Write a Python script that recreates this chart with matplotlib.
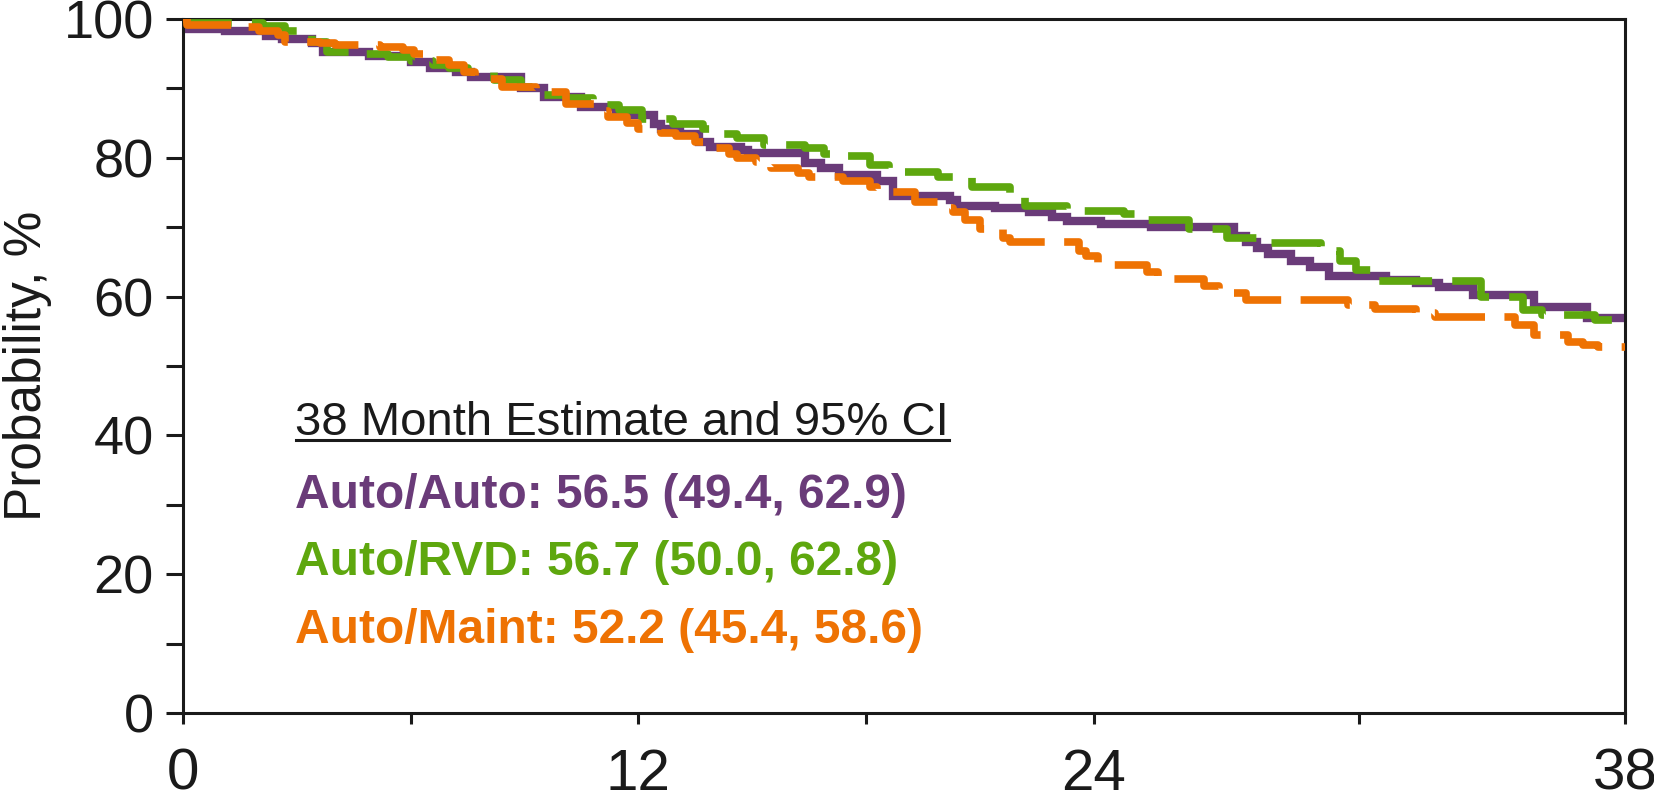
import matplotlib
matplotlib.use('Agg')
import matplotlib.pyplot as plt
from matplotlib.lines import Line2D

plt.rcParams['font.family'] = ['Liberation Sans', 'DejaVu Sans']
plt.rcParams['lines.scale_dashes'] = False

PURPLE = '#6A3B79'
GREEN = '#5EA70E'
ORANGE = '#EE7203'

# ── data (month, survival %) : step change points ──
auto_auto_t = [0, 0.1, 1.1, 2.2, 2.6, 3.4, 3.7, 4.9, 6.0, 6.5, 7.2, 7.6, 8.9, 9.5, 10.5,
               11.4, 12.4, 12.6, 13.1, 13.6, 13.9, 14.7, 14.9, 16.4, 16.8, 17.3, 18.3,
               18.7, 20.2, 20.4, 21.4, 22.3, 22.9, 23.3, 24.2, 25.5, 27.7, 28.0, 28.3,
               28.6, 29.2, 29.7, 30.2, 31.7, 32.5, 33.1, 34.0, 35.6, 37.0, 38.0]
auto_auto_p = [100, 98.6, 98.2, 97.5, 97.1, 96.5, 95.3, 94.6, 93.8, 92.9, 92.4, 91.6, 90.0,
               88.8, 87.3, 86.2, 84.9, 84.2, 83.5, 82.3, 81.5, 81.1, 80.7, 79.2, 78.5,
               77.5, 76.6, 74.5, 73.9, 73.1, 72.7, 72.2, 71.5, 70.9, 70.5, 70.1, 68.8,
               67.9, 67.0, 66.1, 65.2, 64.3, 62.9, 62.4, 62.0, 61.4, 60.2, 58.5, 56.9, 56.9]

auto_rvd_t = [0, 0.1, 2.1, 2.7, 3.1, 3.4, 3.8, 4.4, 5.4, 6.0, 6.6, 7.0, 7.5, 8.2, 8.9,
              9.5, 10.1, 10.8, 11.5, 12.1, 12.9, 13.7, 14.2, 14.6, 15.3, 16.4, 16.9,
              17.5, 18.1, 18.6, 19.9, 20.8, 21.8, 22.2, 23.3, 24.8, 25.3, 26.5, 27.5,
              28.3, 30.0, 30.5, 30.9, 31.5, 34.2, 35.3, 35.8, 37.2, 38.0]
auto_rvd_p = [100, 99.4, 99.0, 98.2, 97.8, 96.7, 95.3, 95.0, 94.5, 94.0, 93.4, 92.9, 92.4,
              91.2, 90.2, 89.0, 88.6, 87.6, 86.9, 85.6, 84.9, 84.2, 83.5, 82.9, 81.8,
              81.4, 80.6, 80.2, 78.9, 77.9, 77.2, 75.8, 74.4, 73.0, 72.3, 71.9, 71.0,
              69.8, 68.4, 67.7, 66.5, 65.2, 63.9, 62.2, 60.0, 58.1, 57.3, 56.7, 56.7]

auto_maint_t = [0, 0.1, 1.5, 2.0, 2.5, 2.7, 3.6, 4.0, 5.2, 5.8, 6.1, 6.6, 7.0, 7.4, 7.7,
                8.4, 9.3, 9.6, 10.1, 11.0, 11.2, 11.7, 12.0, 12.6, 13.0, 13.5, 13.9, 14.4,
                14.6, 15.1, 15.5, 16.2, 16.5, 17.4, 18.1, 18.3, 19.3, 20.0, 20.3, 20.6,
                21.0, 21.6, 21.8, 23.6, 23.8, 24.1, 25.4, 25.7, 26.9, 27.3, 27.6, 28.0,
                30.7, 31.4, 32.5, 33.0, 35.1, 35.6, 36.5, 36.9, 37.3, 38.0]
auto_maint_p = [100, 99.1, 98.8, 98.3, 97.7, 96.7, 96.5, 96.3, 95.9, 95.5, 95.0, 94.1, 93.4,
                92.3, 91.3, 90.2, 89.8, 89.5, 87.8, 86.8, 85.9, 85.0, 84.2, 83.6, 83.1,
                82.3, 81.4, 80.5, 79.9, 79.4, 78.5, 77.8, 77.3, 76.7, 75.8, 75.1, 73.7,
                72.8, 72.2, 71.0, 69.8, 68.5, 67.8, 66.5, 65.8, 64.6, 63.5, 62.6, 61.5,
                61.0, 60.5, 59.5, 58.8, 58.2, 57.6, 57.1, 55.9, 54.5, 53.5, 53.0, 52.8, 52.8]

x_ticks = [0, 6, 12, 18, 24, 31, 38]
x_tick_labels = ['0', '', '12', '', '24', '', '38']
y_major = [0, 20, 40, 60, 80, 100]
y_minor = [10, 30, 50, 70, 90]

header = '38 Month Estimate and 95% CI'
arm_names = ['Auto/Auto', 'Auto/RVD', 'Auto/Maint']
arm_est = [56.5, 56.7, 52.2]
arm_lo = [49.4, 50.0, 45.4]
arm_hi = [62.9, 62.8, 58.6]
arm_colors = [PURPLE, GREEN, ORANGE]

# ── figure ─────────────────────────────────────────────────
W, H = 1654, 799
fig = plt.figure(figsize=(W / 100, H / 100), dpi=100)
ax = fig.add_axes([183 / W, 1 - 713 / H, (1625 - 183) / W, (713 - 19) / H])

ax.plot(auto_auto_t, auto_auto_p, drawstyle='steps-post', color=PURPLE,
        lw=6.0, solid_joinstyle='miter', zorder=2)
ax.plot(auto_rvd_t, auto_rvd_p, drawstyle='steps-post', color=GREEN,
        lw=5.5, dashes=(38, 14.5), zorder=3)
ax.plot(auto_maint_t, auto_maint_p, drawstyle='steps-post', color=ORANGE,
        lw=5.5, dashes=(39, 14), zorder=4)

ax.set_xlim(0, 38)
ax.set_ylim(0, 100)
ax.set_xticks(x_ticks)
ax.set_xticklabels(x_tick_labels)
ax.set_yticks(y_major)
ax.set_yticks(y_minor, minor=True)

ax.tick_params(axis='y', which='both', length=12, width=2.2, pad=9,
               labelsize=39, direction='out', colors='#1a1a1a')
ax.tick_params(axis='x', length=8, width=2.2, pad=17, labelsize=42,
               direction='out', colors='#1a1a1a')
for sp in ax.spines.values():
    sp.set_linewidth(2.2)
    sp.set_color('#1a1a1a')

ax.set_ylabel('Probability, %', fontsize=37, color='#1a1a1a')
ax.yaxis.set_label_coords(-0.0905, 0.5)

# estimate box
x0 = 2.95
ht = ax.text(x0, 40, header, fontsize=34, va='baseline', ha='left', color='#1a1a1a')
rows_y = [29.6, 19.9, 10.1]
for name, est, lo, hi, col, yy in zip(arm_names, arm_est, arm_lo, arm_hi, arm_colors, rows_y):
    ax.text(x0, yy, f'{name}: {est:.1f} ({lo:.1f}, {hi:.1f})', fontsize=34.5,
            fontweight='bold', color=col, va='baseline', ha='left')

# underline the header
fig.canvas.draw()
bb = ht.get_window_extent()
ybase = ax.transData.transform((x0, 40))[1] - 5
inv = fig.transFigure.inverted()
(fx0, fy), (fx1, _) = inv.transform([(bb.x0 + 1, ybase), (bb.x1, ybase)])
fig.add_artist(Line2D([fx0, fx1], [fy, fy], transform=fig.transFigure,
                      color='#1a1a1a', lw=2.2))

fig.savefig('out.png', dpi=100)
